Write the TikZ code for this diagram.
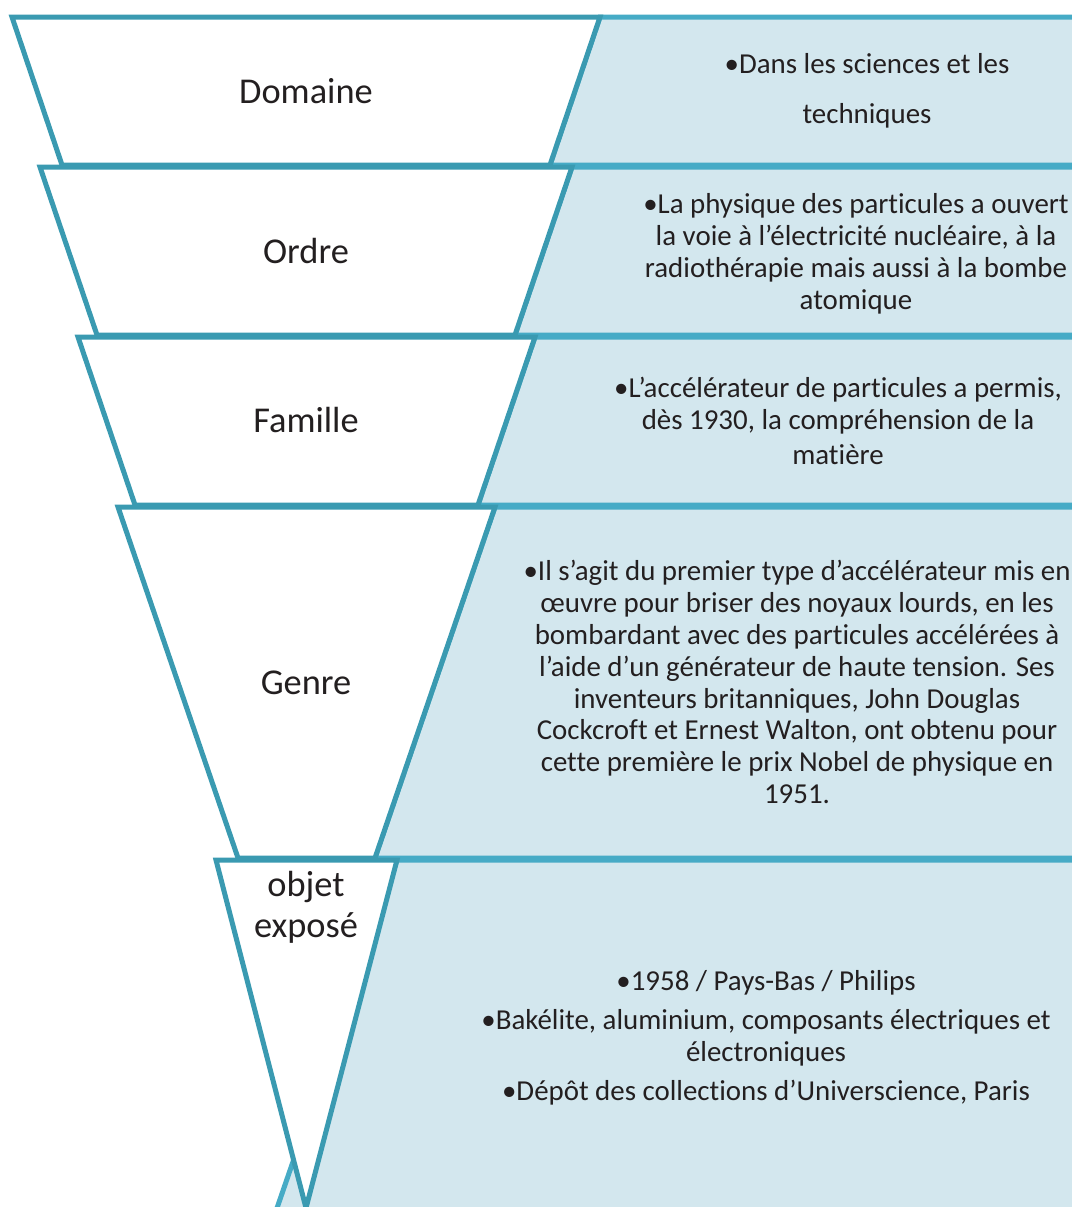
\documentclass[tikz,border=0pt]{standalone}
\usepackage{fontspec}
\setmainfont{Carlito}[Ligatures={NoCommon}]
\definecolor{tdark}{HTML}{3A9AB1}
\definecolor{tlight}{HTML}{46ABC6}
\definecolor{bfill}{HTML}{D3E7EE}
\definecolor{txt}{HTML}{231F20}
\begin{document}
\begin{tikzpicture}[x=1bp,y=-1bp,
  trap/.style={draw=tdark, fill=white, line width=5bp},
  blk/.style={draw=tlight, fill=bfill, line width=5bp},
  lbl/.style={text=txt, font=\fontsize{36.5}{41.5}\selectfont, align=center, inner sep=0pt},
  body/.style={text=txt, font=\fontsize{29}{32}\selectfont, align=center, inner sep=0pt}]
\useasboundingbox (0,0) rectangle (1072,1207);
\clip (0,0) rectangle (1072,1207);
\fill[white] (0,0) rectangle (1072,1207);
% blue blocks
\draw[blk] (600,17) -- (1200,17) -- (1200,165) -- (550,165) -- cycle;
\draw[blk] (572,167) -- (1200,167) -- (1200,335) -- (515,335) -- cycle;
\draw[blk] (535,337) -- (1200,337) -- (1200,505) -- (478,505) -- cycle;
\draw[blk] (495,507) -- (1200,507) -- (1200,858) -- (375,858) -- cycle;
\draw[blk] (397,860) -- (1200,860) -- (1200,1240) -- (266,1240) -- cycle;
% trapezoids
\draw[trap] (12,17) -- (600,17) -- (550,165) -- (62,165) -- cycle;
\draw[trap] (40,167) -- (572,167) -- (515,335) -- (97,335) -- cycle;
\draw[trap] (78,337) -- (535,337) -- (478,505) -- (135,505) -- cycle;
\draw[trap] (118,507) -- (495,507) -- (375,858) -- (238,858) -- cycle;
\draw[trap] (216,860) -- (397,860) -- (306,1208) -- cycle;
% labels
\node[lbl] (l1) at (306,91) {Domaine};
\node[lbl] (l2) at (306,251) {Ordre};
\node[lbl] (l3) at (306,420) {Famille};
\node[lbl] (l4) at (306,683) {Genre};
\node[lbl] (l5) at (306,907.5) {objet\\exposé};
% texts
\node[body] (d1) at (867,91) {•Dans les sciences et les\\[18pt]techniques};
\node[body] (d2) at (856,254) {•La physique des particules a ouvert\\la voie à l’électricité nucléaire, à la\\radiothérapie mais aussi à la bombe\\atomique};
\node[body] (d3) at (838,421) {•L’accélérateur de particules a permis,\\dès 1930, la compréhension de la\\[4pt]matière};
\node[body] (d4) at (797,682) {•Il s’agit du premier type d’accélérateur mis en\\œuvre pour briser des noyaux lourds, en les\\bombardant avec des particules accélérées à\\l’aide d’un générateur de haute tension. Ses\\inventeurs britanniques, John Douglas\\Cockcroft et Ernest Walton, ont obtenu pour\\cette première le prix Nobel de physique en\\1951.};
\node[body] (d5) at (766,1038) {•1958 / Pays-Bas / Philips\\[7pt]•Bakélite, aluminium, composants électriques et\\électroniques\\[7pt]•Dépôt des collections d’Universcience, Paris};
\end{tikzpicture}
\end{document}
